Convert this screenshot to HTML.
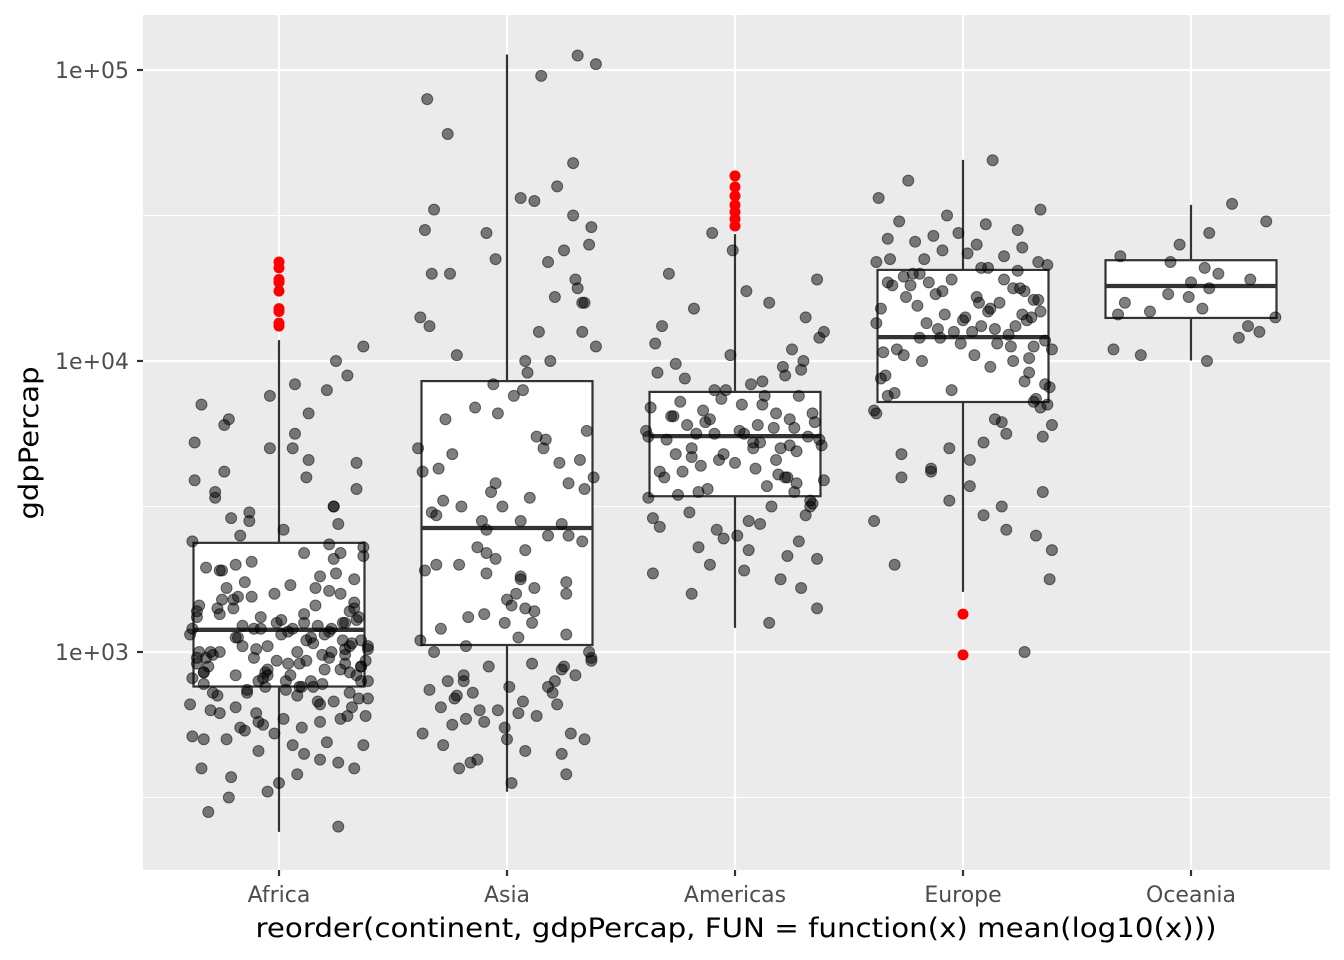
<!DOCTYPE html>
<html><head><meta charset="utf-8"><style>
html,body{margin:0;padding:0;background:#fff;}
svg{display:block;font-family:"DejaVu Sans","Liberation Sans",sans-serif;}
</style></head><body>
<svg id="chart" width="1344" height="960" viewBox="0 0 1344 960" xmlns="http://www.w3.org/2000/svg">
<rect x="0" y="0" width="1344" height="960" fill="#fff"/>
<rect x="143" y="15" width="1187" height="855" fill="#ebebeb"/>
<g id="grid"></g>
<g id="boxes"></g>
<g id="points"></g>
<g id="axes"></g>
<text x="736" y="937" text-anchor="middle" font-size="27" textLength="961" lengthAdjust="spacingAndGlyphs" fill="#000">reorder(continent, gdpPercap, FUN = function(x) mean(log10(x)))</text>
<text transform="translate(38,443) rotate(-90)" text-anchor="middle" font-size="27" textLength="153" lengthAdjust="spacingAndGlyphs" fill="#000">gdpPercap</text>
</svg>
<script>
const categories = ["Africa","Asia","Americas","Europe","Oceania"];
// box stats in gdpPercap: [lowerWhisker, q1, median, q3, upperWhisker]
const boxLow = [241, 331, 1210, 1610, 10040];
const boxQ1 = [761, 1057, 3430, 7230, 14060];
const boxMed = [1192, 2667, 5520, 12080, 18100];
const boxQ3 = [2372, 8530, 7830, 20560, 22200];
const boxHigh = [11800, 113000, 27300, 49100, 34400];
const yTicks = [1000, 10000, 100000];
const yTickLabels = ["1e+03","1e+04","1e+05"];
const yMinor = [316.2, 3162, 31623];
// outliers (log10 gdpPercap)
const outAfrica = [4.34,4.32,4.28,4.27,4.24,4.18,4.17,4.13,4.12];
const outAmericas = [4.636,4.598,4.567,4.536,4.512,4.488,4.464];
const outEurope = [3.13,2.99];
// jittered observations (log10 gdpPercap)
const ptsAfrica = [2.45,2.52,2.58,2.6,2.63,2.66,2.68,2.7,2.72,2.74,2.75,2.77,2.78,2.8,2.81,2.82,2.83,2.84,2.85,2.86,2.87,2.88,2.88,2.89,2.9,2.9,2.91,2.92,2.93,2.93,2.94,2.95,2.96,2.96,2.97,2.98,2.99,3.0,3.0,3.01,3.02,3.03,3.04,3.05,3.06,3.07,3.08,3.08,3.09,3.1,3.11,3.12,3.13,3.14,3.15,3.16,3.17,3.18,3.19,3.2,3.21,3.22,3.24,3.26,3.28,3.3,3.32,3.34,3.36,3.38,3.4,3.42,3.44,3.46,3.48,3.5,3.53,3.56,3.59,3.62,3.66,3.7,3.75,3.8,3.85,3.9,3.95,4.0,4.05,2.98,3.05,2.92,2.86,3.1,2.79,3.0,2.55,2.4,3.6,3.7,2.9,2.95,3.02,2.85,3.15,2.82,2.76,3.08,2.93,3.2,
 2.88,2.91,2.94,2.97,3.0,3.03,3.06,3.09,3.12,3.15,2.87,2.9,2.93,2.96,2.99,3.02,3.05,3.08,3.11,3.14,2.89,2.92,2.95,2.98,3.01,3.04,3.07,3.1,3.13,3.16,2.84,2.86,2.88,2.9,2.92,2.94,2.96,2.98,3.0,3.02,3.04,3.06,3.08,3.1,3.12,3.18,3.22,3.25,3.28,3.31,3.34,3.37,2.7,2.73,2.76,2.79,2.81,2.83,2.65,2.68,2.71,2.74,2.77,2.62,2.57,3.45,3.5,3.55,3.65,3.72,3.78,3.82,3.88,3.92,2.5,2.6,2.69,2.78,3.27,3.33,3.29,3.19,3.23,2.99,2.97,3.01];
const ptsAsia = [2.55,2.58,2.6,2.63,2.65,2.68,2.7,2.72,2.75,2.78,2.8,2.83,2.85,2.87,2.9,2.92,2.95,2.97,3.0,3.02,3.05,3.08,3.1,3.13,3.15,3.18,3.2,3.22,3.25,3.27,3.3,3.32,3.35,3.38,3.4,3.42,3.45,3.48,3.5,3.53,3.55,3.58,3.6,3.63,3.66,3.7,3.73,3.76,3.8,3.84,3.88,3.92,3.96,4.0,4.05,4.1,4.15,4.2,4.25,4.3,4.35,4.4,4.45,4.5,4.55,4.6,4.68,4.78,4.9,5.02,5.05,4.98,3.0,2.9,2.86,3.2,3.45,3.65,2.62,2.72,2.88,2.95,3.1,3.28,3.5,3.7,4.1,4.3,2.8,3.4,
 2.82,2.84,2.86,2.88,2.9,2.92,2.94,2.96,2.98,3.04,3.12,3.16,3.24,3.3,3.36,3.44,3.52,3.56,3.62,3.68,3.74,3.82,3.9,4.02,4.12,4.22,4.28,4.38,4.46,4.52,2.77,2.79,2.81,2.74,2.76,2.66,2.7,3.06,3.14,3.26,3.34,3.47,3.58,4.0,4.2,4.34,4.44,4.56];
const ptsAmericas = [3.1,3.15,3.2,3.25,3.28,3.3,3.33,3.36,3.38,3.4,3.42,3.44,3.46,3.48,3.5,3.52,3.54,3.56,3.58,3.6,3.62,3.64,3.66,3.68,3.7,3.71,3.72,3.73,3.74,3.75,3.76,3.77,3.78,3.79,3.8,3.81,3.82,3.84,3.86,3.88,3.9,3.92,3.94,3.96,3.98,4.0,4.04,4.08,4.12,4.18,4.24,4.3,4.38,4.44,3.7,3.65,3.55,3.85,3.45,3.75,3.6,3.68,3.72,3.5,3.82,3.9,3.35,3.62,4.02,3.78,
 3.66,3.69,3.71,3.73,3.74,3.76,3.77,3.79,3.81,3.83,3.85,3.87,3.63,3.61,3.59,3.57,3.53,3.51,3.47,3.43,3.39,3.32,3.27,3.22,3.93,3.95,3.97,3.99,4.06,4.1,4.15,4.2,4.28,3.67,3.7,3.75,3.8,3.6,3.55,3.88];
const ptsEurope = [3.0,3.25,3.3,3.4,3.45,3.5,3.55,3.6,3.63,3.66,3.7,3.72,3.75,3.78,3.8,3.82,3.84,3.86,3.88,3.9,3.92,3.94,3.96,3.98,4.0,4.01,4.02,4.03,4.04,4.05,4.06,4.07,4.08,4.09,4.1,4.11,4.12,4.13,4.14,4.15,4.16,4.17,4.18,4.19,4.2,4.21,4.22,4.23,4.24,4.25,4.26,4.27,4.28,4.29,4.3,4.31,4.32,4.33,4.34,4.35,4.37,4.39,4.41,4.43,4.45,4.48,4.52,4.56,4.62,4.69,4.1,4.2,4.3,3.95,4.05,4.15,4.25,3.85,4.35,4.0,
 4.02,4.04,4.06,4.08,4.12,4.14,4.16,4.18,4.22,4.24,4.26,4.28,4.32,4.34,4.36,4.38,4.4,4.42,4.44,4.47,4.5,3.93,3.91,3.89,3.87,3.83,3.79,3.74,3.68,3.62,3.57,3.52,3.47,3.42,3.35,4.11,4.13,4.17,4.21,4.27];
const ptsOceania = [4.0,4.02,4.04,4.08,4.1,4.12,4.15,4.16,4.17,4.18,4.2,4.22,4.23,4.25,4.27,4.28,4.3,4.32,4.34,4.36,4.4,4.44,4.48,4.54];
const jitter = [-0.31,0.12,0.37,-0.05,0.22,-0.38,0.08,0.29,-0.17,0.33,-0.26,0.02,0.18,-0.35,0.26,-0.09,0.39,-0.21,0.06,0.31,-0.13,-0.33,0.15,0.24,-0.02,0.36,-0.28,0.1,-0.19,0.34,-0.07,0.2,-0.37,0.27,0.04,-0.24,0.38,-0.11,0.13,-0.3,0.23,-0.04,0.32,-0.16,0.07,-0.39,0.28,-0.22,0.17,0.01,-0.34,0.35,-0.08,0.21,-0.27,0.11,0.3,-0.14,-0.36,0.25,0.03,-0.2,0.37,-0.06,0.16,-0.32,0.09,0.33,-0.18,0.19,-0.25,0.05,0.39,-0.12,-0.29,0.14,0.27,-0.01,-0.38,0.22,-0.1,0.34,-0.23,0.08,0.31,-0.15,0.0,-0.33,0.18,0.26,-0.05,-0.26,0.12,0.36,-0.19,0.06,-0.36,0.24,-0.09,0.29,0.11];

const NS = "http://www.w3.org/2000/svg";
const X0 = 279, XSTEP = 228;
function xScale(i){ return X0 + i*XSTEP; }
function yLog(l){ return 70 + (5 - l)*291; }
function yScale(v){ return yLog(Math.log10(v)); }
function mk(tag, attrs, parent){
  const el = document.createElementNS(NS, tag);
  for (const k in attrs) el.setAttribute(k, attrs[k]);
  parent.appendChild(el);
  return el;
}
const grid = document.getElementById('grid');
const boxes = document.getElementById('boxes');
const pts = document.getElementById('points');
const axes = document.getElementById('axes');

yMinor.forEach(v=>{
  const el = mk('line',{x1:143,x2:1330,y1:yScale(v),y2:yScale(v),stroke:'#fff','stroke-width':1.1},grid);
  
  
});
yTicks.forEach((v,i)=>{
  const y = yScale(v);
  const el = mk('line',{x1:143,x2:1330,y1:y,y2:y,stroke:'#fff','stroke-width':2.2},grid);
  
  
  const t = mk('line',{x1:137,x2:143,y1:y,y2:y,stroke:'#333','stroke-width':2.2},axes);
  
  
  const lbl = mk('text',{x:129,y:y+8,'text-anchor':'end','font-size':22,fill:'#4d4d4d'},axes);
  lbl.textContent = yTickLabels[i];
  
  
});
categories.forEach((c,i)=>{
  const x = xScale(i);
  const el = mk('line',{x1:x,x2:x,y1:15,y2:870,stroke:'#fff','stroke-width':2.2},grid);
  
  
  const t = mk('line',{x1:x,x2:x,y1:870,y2:876,stroke:'#333','stroke-width':2.2},axes);
  
  
  const lbl = mk('text',{x:x,y:902,'text-anchor':'middle','font-size':22,fill:'#4d4d4d'},axes);
  lbl.textContent = c;
  
  
});

const hw = XSTEP*0.75/2;
categories.forEach((c,i)=>{
  const x = xScale(i);
  const g = mk('g',{},boxes);
  
  
  mk('line',{x1:x,x2:x,y1:yScale(boxQ3[i]),y2:yScale(boxHigh[i]),stroke:'#333','stroke-width':2.2},g);
  mk('line',{x1:x,x2:x,y1:yScale(boxQ1[i]),y2:yScale(boxLow[i]),stroke:'#333','stroke-width':2.2},g);
  mk('rect',{x:x-hw,y:yScale(boxQ3[i]),width:hw*2,height:yScale(boxQ1[i])-yScale(boxQ3[i]),fill:'#fff',stroke:'#333','stroke-width':2.2},g);
  mk('line',{x1:x-hw,x2:x+hw,y1:yScale(boxMed[i]),y2:yScale(boxMed[i]),stroke:'#333','stroke-width':4.3},g);
});

const outs = [outAfrica, [], outAmericas, outEurope, []];
outs.forEach((arr,i)=>{
  arr.forEach(l=>{
    const c = mk('circle',{cx:xScale(i),cy:yLog(l),r:5.5,fill:'#ff0000'},pts);
    
    
  });
});
const series = [ptsAfrica, ptsAsia, ptsAmericas, ptsEurope, ptsOceania];
series.forEach((arr,i)=>{
  arr.forEach((l,j)=>{
    const jx = jitter[(j*3 + i*11) % jitter.length];
    const c = mk('circle',{cx:xScale(i)+jx*XSTEP,cy:yLog(l),r:5.5,fill:'rgba(0,0,0,0.5)',stroke:'rgba(0,0,0,0.5)','stroke-width':1},pts);
    
    
  });
});
</script>
</body></html>
